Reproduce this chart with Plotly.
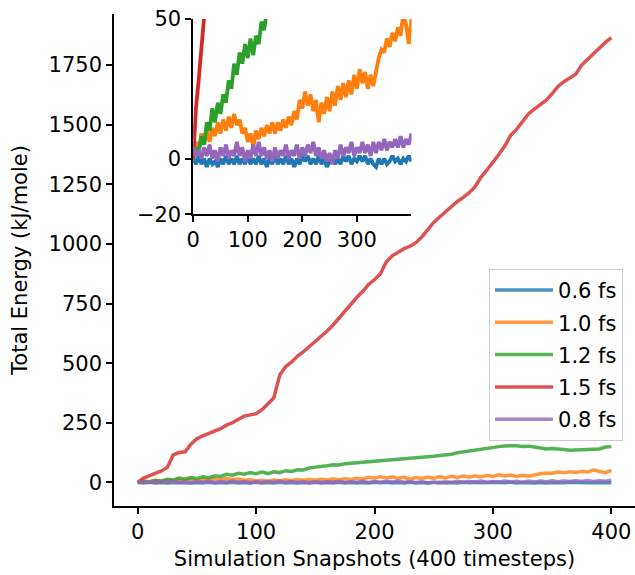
import plotly.graph_objects as go

x_vals = list(range(0, 401, 5))

labels = ["0.6 fs", "1.0 fs", "1.2 fs", "1.5 fs", "0.8 fs"]

e_06 = [0, -2, 1, -2, 0, -3, 0, -2, -1, -3, 0, -2, 1, -2, 0, -2, 1, -2, 0, -2,
        1, -2, 0, -2, 1, -2, 0, -3, 0, -2, 1, -2, 0, -2, 1, -2, 0, -3, 0, -2,
        1, -1, 1, -2, 0, -2, 1, -2, 0, -3, -1, 1, -2, 0, -2, 1, -1, 1, -2, 0,
        -1, 1, -1, 1, -2, 0, -2, -3, 0, -2, 0, -2, -1, 1, -1, 0, -2, 0, -1, 1, -1]

e_10 = [0, 6, 3, 9, 5, 10, 6, 11, 8, 13, 9, 14, 10, 15, 11, 16, 12, 14, 9, 11,
        6, 9, 4, 10, 7, 11, 8, 12, 9, 13, 9, 13, 10, 14, 11, 15, 12, 17, 14, 21,
        18, 24, 19, 23, 17, 21, 13, 20, 16, 22, 17, 24, 19, 26, 21, 27, 22, 28, 23, 30,
        25, 32, 27, 31, 25, 30, 26, 32, 36, 39, 38, 43, 40, 45, 42, 47, 44, 52, 48, 41, 50]

e_12 = [0, 4, 2, 8, 5, 13, 10, 18, 13, 20, 16, 23, 20, 28, 25, 34, 30, 38, 34, 41,
        36, 43, 37, 44, 41, 49, 46, 53, 52, 60, 64, 66, 70, 74, 73, 78, 80, 82, 85, 87,
        90, 89, 92, 94, 95, 98, 100, 103, 106, 108, 110, 113, 115, 118, 124, 128, 132, 137, 141, 144,
        147, 150, 153, 155, 154, 151, 152, 148, 144, 140, 142, 141, 138, 135, 136, 134, 137, 139, 140, 148, 150]

e_15 = [0, 18, 28, 38, 48, 62, 115, 125, 128, 160, 183, 195, 205, 212, 225, 240, 250, 265, 278, 283,
        288, 305, 330, 355, 450, 485, 505, 530, 548, 570, 590, 610, 635, 660, 690, 720, 745, 775, 800, 830,
        850, 875, 925, 950, 965, 980, 990, 1005, 1030, 1060, 1090, 1113, 1135, 1160, 1178, 1195, 1215, 1240, 1280, 1310,
        1340, 1375, 1410, 1455, 1480, 1510, 1545, 1565, 1585, 1603, 1630, 1660, 1680, 1695, 1712, 1750, 1775, 1800, 1825, 1845, 1865]

e_08 = [4, 1, 3, 0, 4, 1, 5, 0, 3, -1, 4, 1, 5, 0, 3, 1, 6, 1, 4, -1,
        3, 0, 5, 1, 6, 1, 4, 0, 3, -1, 4, 0, 3, 1, 5, 0, 3, 1, 5, 0,
        4, 1, 5, 2, 6, 1, 4, 0, 3, -1, 2, -2, 3, 0, 5, 1, 4, 2, 6, 1,
        4, 2, 6, 2, 5, 1, 6, 2, 6, 3, 7, 3, 6, 4, 7, 4, 8, 4, 7, 5, 9]

series = [e_06, e_10, e_12, e_15, e_08]
colors = ["#1f77b4", "#ff7f0e", "#2ca02c", "#d62728", "#9467bd"]

main_ticks_x = [0, 100, 200, 300, 400]
main_ticks_y = [0, 250, 500, 750, 1000, 1250, 1500, 1750]
inset_ticks_x = [0, 100, 200, 300]
inset_ticks_y = [-20, 0, 50]

FONT = "DejaVu Sans"
FS = 21
fig = go.Figure()

for lab, ys, c in zip(labels, series, colors):
    fig.add_trace(go.Scatter(x=x_vals, y=ys, mode="lines", name=lab,
                             line=dict(color=c, width=3.5), opacity=0.8,
                             legendgroup=lab, xaxis="x", yaxis="y"))
for lab, ys, c in zip(labels, series, colors):
    fig.add_trace(go.Scatter(x=x_vals, y=ys, mode="lines", name=lab,
                             line=dict(color=c, width=3.8), showlegend=False,
                             xaxis="x2", yaxis="y2", cliponaxis=True))

axis_common = dict(showline=True, linecolor="black", linewidth=1.5, ticks="outside",
                   ticklen=6, tickwidth=1.5, tickcolor="black", showgrid=False,
                   zeroline=False, tickfont=dict(family=FONT, size=FS, color="black"))

fig.update_layout(
    width=635, height=575,
    margin=dict(l=114, r=0, t=14, b=69),
    paper_bgcolor="white", plot_bgcolor="white",
    font=dict(family=FONT, size=FS, color="black"),
    xaxis=dict(range=[-20, 420], domain=[0, 1], tickvals=main_ticks_x,
               title=dict(text="Simulation Snapshots (400 timesteps)", standoff=8,
                          font=dict(family=FONT, size=FS)), **axis_common),
    yaxis=dict(range=[-99, 1964], domain=[0, 1], tickvals=main_ticks_y,
               title=dict(text="Total Energy (kJ/mole)", standoff=15,
                          font=dict(family=FONT, size=FS)), **axis_common),
    xaxis2=dict(range=[0, 400], domain=[0.152, 0.571], anchor="y2",
                tickvals=inset_ticks_x, **axis_common),
    yaxis2=dict(range=[-20, 50], domain=[0.5925, 0.99], anchor="x2",
                tickvals=inset_ticks_y, **axis_common),
    legend=dict(x=0.977, y=0.482, xanchor="right", yanchor="top",
                bgcolor="rgba(255,255,255,0.8)", bordercolor="#cccccc", borderwidth=1,
                font=dict(family=FONT, size=FS), traceorder="grouped",
                tracegroupgap=2, itemwidth=58),
)

fig.write_html("out.html")
